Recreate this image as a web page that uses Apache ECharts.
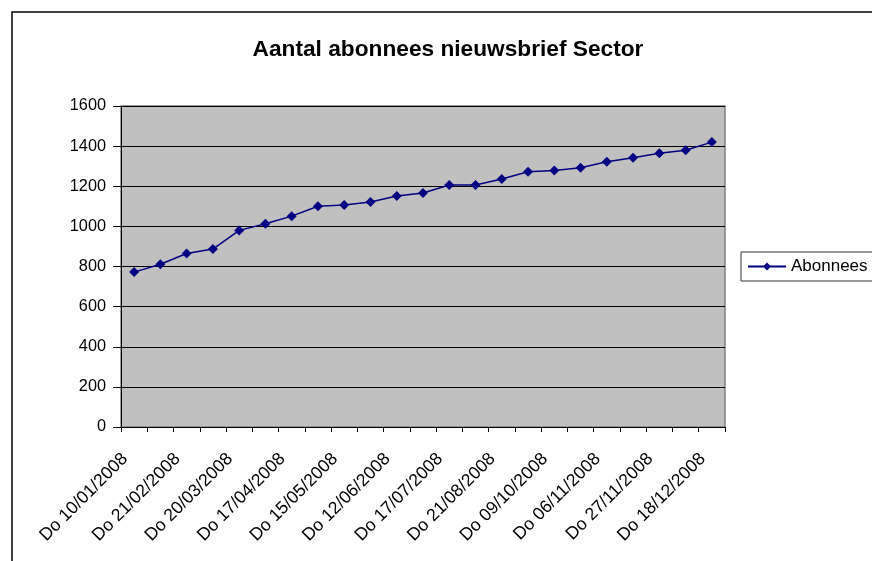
<!DOCTYPE html>
<html>
<head>
<meta charset="utf-8">
<script src="https://cdn.jsdelivr.net/npm/echarts@6/dist/echarts.min.js"></script>
<style>
html,body{margin:0;padding:0;background:#fff;}
#chart{width:872px;height:561px;}
</style>
</head>
<body>
<div id="chart"></div>
<script>
var categories = [
  'Do 10/01/2008','Do 31/01/2008','Do 21/02/2008','Do 06/03/2008','Do 20/03/2008','Do 03/04/2008',
  'Do 17/04/2008','Do 24/04/2008','Do 15/05/2008','Do 29/05/2008','Do 12/06/2008','Do 26/06/2008',
  'Do 17/07/2008','Do 07/08/2008','Do 21/08/2008','Do 18/09/2008','Do 09/10/2008','Do 23/10/2008',
  'Do 06/11/2008','Do 20/11/2008','Do 27/11/2008','Do 04/12/2008','Do 18/12/2008'
];
var abonnees = [772, 811, 865, 887, 980, 1013, 1051, 1100, 1106, 1121, 1151, 1166,
  1206, 1206, 1236, 1272, 1279, 1292, 1322, 1342, 1365, 1379, 1420];
var seriesName = 'Abonnees';
var titleText = 'Aantal abonnees nieuwsbrief Sector';

var chart = echarts.init(document.getElementById('chart'));
var font = 'Liberation Sans, Arial, sans-serif';
chart.setOption({
  backgroundColor: '#ffffff',
  animation: false,
  title: {
    text: titleText,
    left: 443,
    top: 33,
    textAlign: 'center',
    textStyle: {fontFamily: font, fontSize: 22.7, fontWeight: 'bold', color: '#000'}
  },
  legend: {
    data: [seriesName],
    left: 741,
    top: 252,
    orient: 'vertical',
    backgroundColor: '#ffffff',
    borderColor: '#333333',
    borderWidth: 1,
    borderRadius: 0,
    padding: [6, 30, 6, 6],
    itemWidth: 38,
    itemHeight: 10,
    itemGap: 4,
    textStyle: {fontFamily: font, fontSize: 17, color: '#000'}
  },
  graphic: [{
    type: 'rect',
    shape: {x: 12, y: 12, width: 900, height: 600},
    style: {fill: 'none', stroke: '#000', lineWidth: 1.5},
    silent: true,
    z: 100
  }],
  grid: {
    left: 121, right: 147, top: 106, bottom: 134,
    show: true,
    backgroundColor: '#c0c0c0',
    borderColor: '#808080',
    borderWidth: 1.5
  },
  xAxis: {
    type: 'category',
    data: categories,
    boundaryGap: true,
    axisLine: {show: true, lineStyle: {color: '#000', width: 1}},
    axisTick: {show: true, interval: 0, length: 5, lineStyle: {color: '#000'}},
    axisLabel: {
      interval: 1,
      rotate: 45,
      margin: 20,
      padding: [0, 13, 0, 0],
      fontFamily: font,
      fontSize: 17.7,
      color: '#000'
    },
    splitLine: {show: false}
  },
  yAxis: {
    type: 'value',
    min: 0,
    max: 1600,
    interval: 200,
    axisLine: {show: true, lineStyle: {color: '#000', width: 1}},
    axisTick: {show: true, length: 8, lineStyle: {color: '#000'}},
    axisLabel: {
      fontFamily: font, fontSize: 16.3, color: '#000', margin: 15,
      formatter: function (v) { return String(v); }
    },
    splitLine: {show: true, lineStyle: {color: '#000', width: 1}}
  },
  series: [{
    name: seriesName,
    type: 'line',
    data: abonnees,
    symbol: 'diamond',
    symbolSize: 10,
    showAllSymbol: true,
    lineStyle: {color: '#000080', width: 1.5},
    itemStyle: {color: '#000080', borderWidth: 0}
  }]
});
</script>
</body>
</html>
